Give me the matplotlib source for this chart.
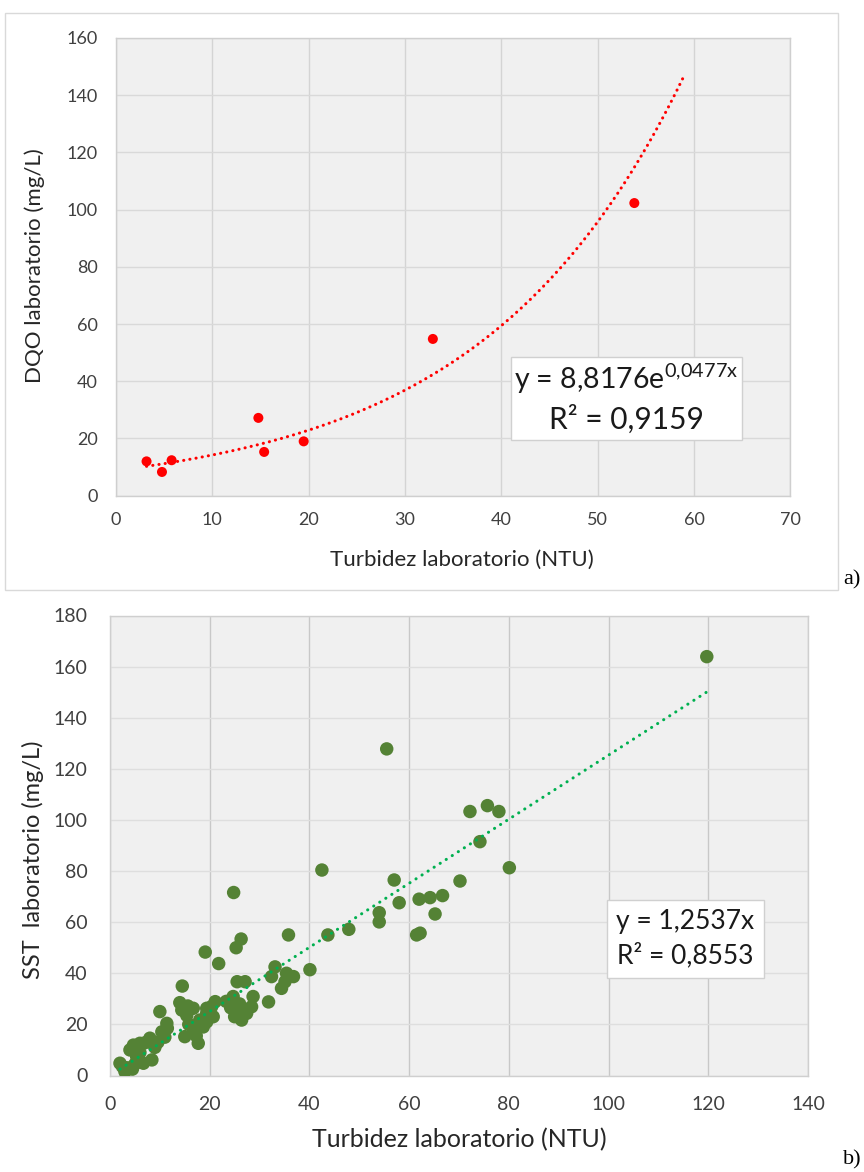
import numpy as np
import matplotlib
matplotlib.use("Agg")
import matplotlib.pyplot as plt
from matplotlib.patches import Rectangle

plt.rcParams["font.family"] = ["Lato", "DejaVu Sans"]
plt.rcParams["mathtext.fontset"] = "custom"
plt.rcParams["mathtext.rm"] = "Lato"
plt.rcParams["mathtext.it"] = "Lato:italic"

# ---- a) DQO vs turbidity (exponential fit) ----
turb_a = [3.2, 4.8, 5.8, 14.8, 15.4, 19.5, 32.9, 53.8]
dqo_a = [12.0, 8.3, 12.4, 27.2, 15.3, 19.0, 54.8, 102.3]
coef_a, rate_a = 8.8176, 0.0477
r2_a = 0.9159
forecast_a = 5.2

# ---- b) SST vs turbidity (linear fit through origin) ----
turb_b = [119.7, 55.5, 72.2, 75.7, 78.0, 74.2, 80.1, 42.5, 57.0, 70.2,
          58.0, 62.0, 64.2, 66.7, 65.2, 54.0, 54.0, 61.5, 62.2, 47.9,
          43.7, 35.8,
          24.8, 26.3, 25.3, 19.1, 21.8, 40.1, 33.1, 32.4, 35.4, 36.8,
          35.1, 34.4, 25.5, 27.1, 14.5, 31.8,
          24.7, 23.3, 24.2, 25.2, 26.4, 27.4, 28.4, 28.7, 26.0, 25.0,
          21.1, 20.4, 19.4, 19.4, 20.7, 19.4, 18.0, 18.7,
          16.7, 14.0, 14.4, 15.6, 15.4, 15.8, 16.8, 17.3, 17.7, 15.0,
          10.0, 11.4, 10.4, 11.0, 11.5, 9.0,
          8.0, 9.6, 7.0, 6.0, 4.7, 4.0, 5.35, 6.7, 8.4, 6.0,
          2.0, 3.0, 3.5, 4.5, 5.0, 2.5]
sst_b = [163.9, 127.8, 103.3, 105.6, 103.3, 91.5, 81.3, 80.4, 76.5, 76.1,
         67.6, 69.0, 69.6, 70.4, 63.2, 63.7, 60.1, 55.0, 55.7, 57.2,
         55.0, 55.0,
         71.6, 53.4, 50.0, 48.3, 43.8, 41.4, 42.5, 38.7, 40.0, 38.7,
         36.7, 34.1, 36.7, 36.7, 35.0, 28.8,
         30.9, 29.0, 26.5, 24.0, 21.7, 24.3, 26.9, 30.9, 28.0, 23.0,
         28.9, 27.0, 26.3, 24.4, 23.0, 21.0, 21.7, 19.0,
         26.3, 28.5, 25.6, 27.2, 23.5, 20.0, 18.0, 15.5, 12.6, 15.2,
         25.0, 20.4, 17.1, 15.0, 18.5, 11.0,
         14.6, 13.0, 12.8, 12.6, 11.9, 10.0, 7.4, 4.8, 6.1, 9.0,
         4.8, 1.5, 3.0, 2.5, 4.5, 3.5]
slope_b = 1.2537
r2_b = 0.8553

W, H = 864, 1172
fig = plt.figure(figsize=(W / 100, H / 100), dpi=100)
fig.patch.set_facecolor("white")


def px_axes(left, top, right, bottom):
    return fig.add_axes([left / W, 1 - bottom / H, (right - left) / W, (bottom - top) / H])


def style(ax, vgrid, hgrid):
    ax.set_facecolor("#F0F0F0")
    for s in ax.spines.values():
        s.set_color("#CFCFCF")
        s.set_linewidth(1.0)
    ax.grid(axis="x", color=vgrid, linewidth=1.0)
    ax.grid(axis="y", color=hgrid, linewidth=1.0)
    ax.set_axisbelow(True)
    ax.tick_params(length=0, colors="#404040")


TICK_A = 13
TICK_B = 14

# ---------- chart a ----------
fig.patches.append(Rectangle((5 / W, 1 - 590 / H), 833 / W, 577 / H,
                             transform=fig.transFigure, facecolor="none",
                             edgecolor="#D9D9D9", linewidth=1.0))
ax1 = px_axes(115.7, 38, 790.5, 495.7)
style(ax1, "#D4D4D4", "#D9D9D9")
ax1.set_xlim(0, 70)
ax1.set_ylim(0, 160)
ax1.set_xticks(np.arange(0, 71, 10))
ax1.set_yticks(np.arange(0, 161, 20))
ax1.tick_params(axis="x", labelsize=TICK_A, pad=12)
ax1.tick_params(axis="y", labelsize=TICK_A, pad=13)

ax1.scatter(turb_a, dqo_a, s=52, color="#FF0000", edgecolors="none", zorder=3)
xa = np.linspace(min(turb_a), max(turb_a) + forecast_a, 300)
ax1.plot(xa, coef_a * np.exp(rate_a * xa), color="#FF0000", linewidth=2.2,
         linestyle=(0, (0.05, 2.0)), dash_capstyle="round", zorder=4)

ax1.set_xlabel("Turbidez laboratorio (NTU)", fontsize=16, color="#262626")
ax1.set_ylabel("DQO laboratorio (mg/L)", fontsize=16, color="#262626")
ax1.xaxis.set_label_coords(0.513, -0.1405)
ax1.xaxis.label.set_va("center")
ax1.yaxis.set_label_coords(-0.1196, 0.502)
ax1.yaxis.label.set_va("center")

ax1.add_patch(Rectangle((0.586, 0.1217), 0.342, 0.1813, transform=ax1.transAxes,
                        facecolor="white", edgecolor="#D0D0D0", linewidth=1.0, zorder=5))
coef_txt = f"{coef_a:.4f}".replace(".", ",")
rate_txt = f"{rate_a:.4f}".replace(".", "{,}")
ax1.text(0.757, 0.255, f"y = {coef_txt}e$^{{\\mathregular{{{rate_txt}x}}}}$",
         transform=ax1.transAxes, ha="center", va="center", fontsize=20.5,
         color="#1A1A1A", zorder=6)
ax1.text(0.757, 0.168, "R² = " + f"{r2_a:.4f}".replace(".", ","),
         transform=ax1.transAxes, ha="center", va="center", fontsize=21.5,
         color="#1A1A1A", zorder=6)
fig.text(843 / W, 1 - 580 / H, "a)", fontsize=16, family="Liberation Serif",
         ha="left", va="center", color="black")

# ---------- chart b ----------
ax2 = px_axes(110, 615.5, 808, 1075.5)
style(ax2, "#C8C8C8", "#DEDEDE")
ax2.set_xlim(0, 140)
ax2.set_ylim(0, 180)
ax2.set_xticks(np.arange(0, 141, 20))
ax2.set_yticks(np.arange(0, 181, 20))
ax2.tick_params(axis="x", labelsize=TICK_B, pad=15)
ax2.tick_params(axis="y", labelsize=TICK_B, pad=16)

ax2.scatter(turb_b, sst_b, s=94, color="#548235", edgecolors="none", zorder=3)
xb = np.linspace(min(turb_b), max(turb_b), 200)
ax2.plot(xb, slope_b * xb, color="#00B050", linewidth=2.2,
         linestyle=(0, (0.05, 2.3)), dash_capstyle="round", zorder=4)

ax2.set_xlabel("Turbidez laboratorio (NTU)", fontsize=18, color="#262626")
ax2.set_ylabel("SST  laboratorio (mg/L)", fontsize=17, color="#262626")
ax2.xaxis.set_label_coords(0.501, -0.140)
ax2.xaxis.label.set_va("center")
ax2.yaxis.set_label_coords(-0.110, 0.468)
ax2.yaxis.label.set_va("center")

ax2.add_patch(Rectangle((0.712, 0.212), 0.225, 0.1695, transform=ax2.transAxes,
                        facecolor="white", edgecolor="#D0D0D0", linewidth=1.0, zorder=5))
ax2.text(0.8245, 0.335, f"y = {slope_b:.4f}x".replace(".", ","),
         transform=ax2.transAxes, ha="center", va="center", fontsize=19,
         color="#1A1A1A", zorder=6)
ax2.text(0.8245, 0.262, "R² = " + f"{r2_b:.4f}".replace(".", ","),
         transform=ax2.transAxes, ha="center", va="center", fontsize=19,
         color="#1A1A1A", zorder=6)
fig.text(843 / W, 1 - 1160 / H, "b)", fontsize=16, family="Liberation Serif",
         ha="left", va="center", color="black")

fig.savefig("out.png", dpi=100, facecolor="white")
